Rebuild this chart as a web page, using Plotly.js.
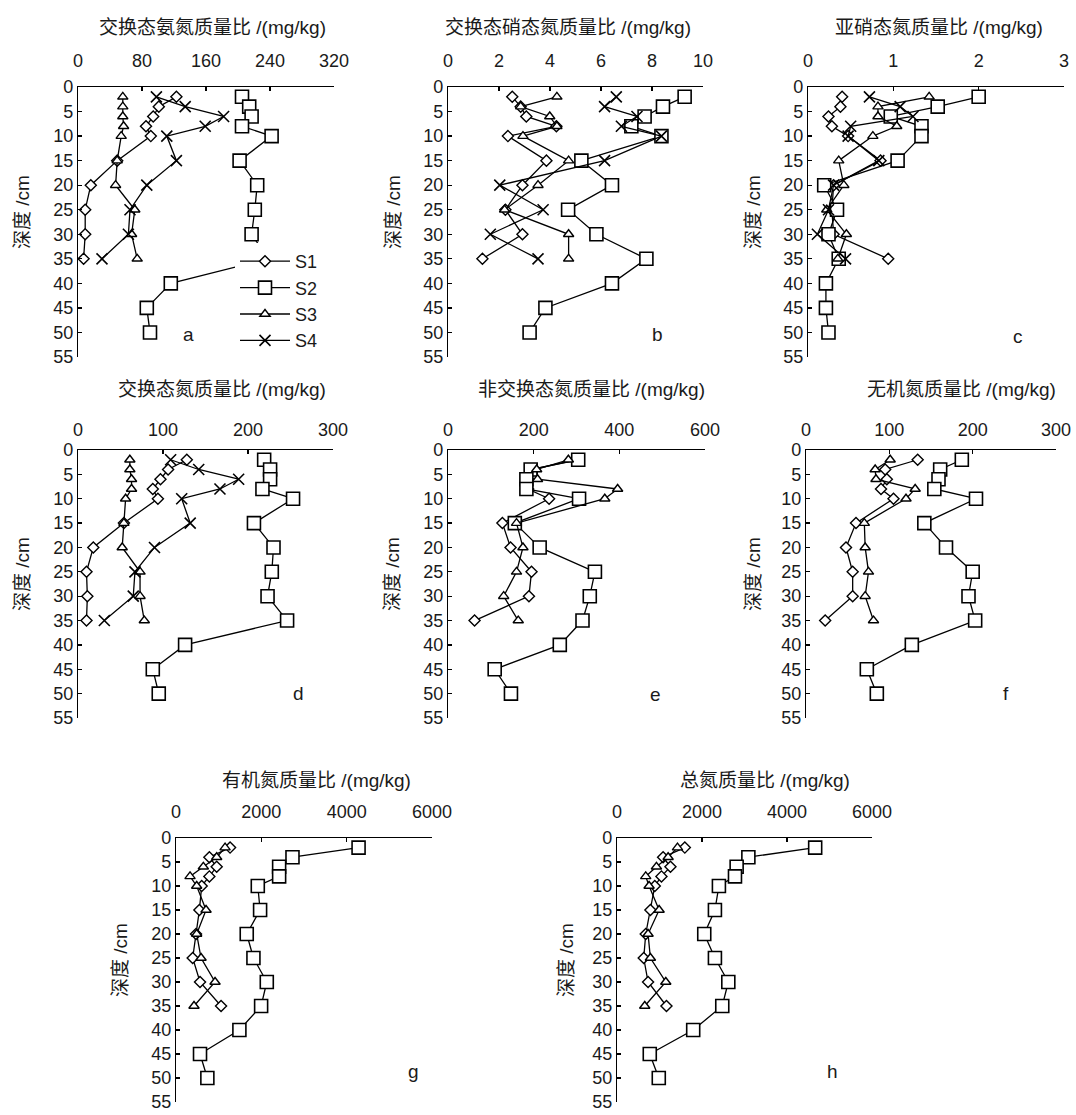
<!DOCTYPE html>
<html><head><meta charset="utf-8">
<script src="https://cdn.plot.ly/plotly-3.0.1.min.js"></script>
<style>html,body{margin:0;padding:0;background:#fff}#chart{width:1076px;height:1115px}</style>
</head><body><div id="chart"></div>
<script>
// ---------- data ----------
const depthS = [2,4,6,8,10,15,20,25,30,35];            // S1, S3, S4
const depthS2 = [2,4,6,8,10,15,20,25,30,35,40,45,50];   // S2
const seriesNames = ['S1','S2','S3','S4'];

// a 交换态氨氮
const nh4_S1 = [123,101,94,85,91,49,16,9,9,7];
const nh4_S2 = [205,214,217,205,242,202,224,221,217,238,116,86,90];
const nh4_S3 = [56,56,56,57,54,49,47,71,67,74];
const nh4_S4 = [98,134,182,159,111,123,86,65,63,30];
// b 交换态硝态氮
const no3_S1 = [2.52,2.85,3.07,4.25,2.35,3.86,2.92,2.25,2.92,1.35];
const no3_S2 = [9.28,8.43,7.71,7.19,8.37,5.23,6.43,4.71,5.82,7.78,6.43,3.82,3.2];
const no3_S3 = [4.27,2.85,3.99,4.27,2.94,4.73,3.53,2.22,4.73,4.73];
const no3_S4 = [6.6,6.14,7.41,6.8,8.37,6.14,2.03,3.73,1.66,3.53];
// c 亚硝态氮
const no2_S1 = [0.40,0.38,0.24,0.28,0.47,0.85,0.30,0.28,0.30,0.94];
const no2_S2 = [2.0,1.52,0.97,1.33,1.33,1.05,0.19,0.34,0.24,0.36,0.21,0.21,0.24];
const no2_S3 = [1.42,0.82,0.82,1.04,0.76,0.36,0.42,0.22,0.45,0.35];
const no2_S4 = [0.72,1.08,1.23,0.50,0.47,0.83,0.30,0.24,0.11,0.44];
// d 交换态氮
const exN_S1 = [128,106,97,88,94,54,18,10,11,10];
const exN_S2 = [219,226,226,217,253,207,230,228,223,246,126,88,95];
const exN_S3 = [61,61,63,63,56,54,52,73,73,78];
const exN_S4 = [109,142,189,167,122,132,90,67,65,31];
// e 非交换态氮
const nonexN_S1 = [300,195,187,187,236,127,146,195,189,62];
const nonexN_S2 = [304,193,183,183,306,156,214,343,331,314,261,109,147];
const nonexN_S3 = [281,207,209,396,366,160,175,160,130,164];
// f 无机氮
const inorgN_S1 = [134,95,97,90,105,60,48,56,56,23];
const inorgN_S2 = [187,161,159,154,204,142,168,200,195,203,127,73,85];
const inorgN_S3 = [101,83,84,131,120,70,71,75,71,81];
// g 有机氮
const orgN_S1 = [1267,782,954,782,602,548,469,391,563,1056];
const orgN_S2 = [4279,2730,2417,2417,1917,1971,1658,1815,2128,1995,1486,563,735];
const orgN_S3 = [1150,954,641,329,485,704,485,587,915,422];
// h 总氮
const totN_S1 = [1596,1085,1258,1046,889,786,676,629,731,1164];
const totN_S2 = [4663,3091,2815,2776,2398,2304,2053,2304,2619,2477,1793,771,983];
const totN_S3 = [1423,1203,928,676,755,991,731,786,1148,653];

const xTitles = ['交换态氨氮质量比 /(mg/kg)','交换态硝态氮质量比 /(mg/kg)','亚硝态氮质量比 /(mg/kg)',
  '交换态氮质量比 /(mg/kg)','非交换态氮质量比 /(mg/kg)','无机氮质量比 /(mg/kg)',
  '有机氮质量比 /(mg/kg)','总氮质量比 /(mg/kg)'];
const yTitle = '深度 /cm';
const panelLetters = ['a','b','c','d','e','f','g','h'];
const xRanges = [[0,320],[0,10],[0,3],[0,300],[0,600],[0,300],[0,6000],[0,6000]];
const xDticks = [80,2,1,100,200,100,2000,2000];
const yTickVals = [0,5,10,15,20,25,30,35,40,45,50,55];

const panelSeries = [
  [nh4_S1,nh4_S2,nh4_S3,nh4_S4],
  [no3_S1,no3_S2,no3_S3,no3_S4],
  [no2_S1,no2_S2,no2_S3,no2_S4],
  [exN_S1,exN_S2,exN_S3,exN_S4],
  [nonexN_S1,nonexN_S2,nonexN_S3],
  [inorgN_S1,inorgN_S2,inorgN_S3],
  [orgN_S1,orgN_S2,orgN_S3],
  [totN_S1,totN_S2,totN_S3]
];

// ---------- layout geometry (pixels) ----------
const W = 1076, H = 1115;
const boxes = [
  [78,334,87,357],[448,703,87,357],[808,1064,87,357],
  [78,333,450,718],[448,705,450,718],[806,1056,450,718],
  [176,432,838,1102],[617,872,838,1102]
];
const standoffRow = [12,12,12,6,6,6,12,12];
const xTitlePos = [[212,27],[568,27],[939,27],[222,389],[591,389],[961,389],[316,780],[765,780]];
const yTitlePos = [[22,212],[393,212],[753,212],[22,574],[392,574],[753,574],[120,960],[566,960]];
const letterPos = [[188,334],[657,334],[1018,337],[298,693],[655,694],[1006,693],[413,1071],[832,1071]];

const FONT = '"Liberation Sans", Arial, "Noto Sans CJK SC", sans-serif';
const TXT = '#1a1a1a';
const markerStyles = [
  {symbol:'diamond', size:8.5, color:'white', line:{color:'black',width:1.4}},
  {symbol:'square', size:13, color:'white', line:{color:'black',width:1.6}},
  {symbol:'triangle-up', size:9, color:'white', line:{color:'black',width:1.4}},
  {symbol:'x-thin', size:11, color:'black', line:{color:'black',width:1.6}}
];

const traces = [];
const layout = {
  width: W, height: H,
  margin: {l:0,r:0,t:0,b:0},
  paper_bgcolor: 'white', plot_bgcolor: 'white',
  font: {family: FONT, size: 18, color: TXT},
  showlegend: true,
  legend: {x: 235/W, y: 1-243/H, xanchor:'left', yanchor:'top', bgcolor:'white',
           borderwidth:0, font:{size:18, family:FONT, color:TXT}, itemwidth:50,
           tracegroupgap:0},
  annotations: []
};

panelSeries.forEach((ser, p) => {
  const ax = p === 0 ? '' : String(p+1);
  ser.forEach((vals, s) => {
    traces.push({
      type:'scatter', mode:'lines+markers',
      x: vals, y: s === 1 ? depthS2 : depthS,
      xaxis: 'x'+ax, yaxis: 'y'+ax,
      name: seriesNames[s], showlegend: p === 0,
      line: {color:'black', width:1.3},
      marker: markerStyles[s],
      cliponaxis: false, hoverinfo:'skip'
    });
  });
  const b = boxes[p];
  layout['xaxis'+ax] = {
    domain: [b[0]/W, b[1]/W], anchor: 'y'+ax, side: 'top',
    range: xRanges[p], dtick: xDticks[p], tick0: 0,
    showline: true, linecolor:'black', linewidth:1.2,
    ticks:'inside', ticklen:4, tickcolor:'black', tickwidth:1.2,
    showgrid:false, zeroline:false, mirror:false,
    tickfont:{size:18, family:FONT, color:TXT},
    ticklabelstandoff: standoffRow[p], ticklabeloverflow:'allow', fixedrange:true
  };
  layout['yaxis'+ax] = {
    domain: [1-b[3]/H, 1-b[2]/H], anchor: 'x'+ax,
    range: [55,0], tickvals: yTickVals,
    showline: true, linecolor:'black', linewidth:1.2,
    ticks:'inside', ticklen:4, tickcolor:'black', tickwidth:1.2,
    showgrid:false, zeroline:false, ticklabeloverflow:'allow',
    tickfont:{size:18, family:FONT, color:TXT}, fixedrange:true
  };
  layout.annotations.push({xref:'paper', yref:'paper', x:xTitlePos[p][0]/W, y:1-xTitlePos[p][1]/H,
    xanchor:'center', yanchor:'middle', showarrow:false, text:xTitles[p],
    font:{size:19, family:FONT, color:TXT}});
  layout.annotations.push({xref:'paper', yref:'paper', x:yTitlePos[p][0]/W, y:1-yTitlePos[p][1]/H,
    xanchor:'center', yanchor:'middle', showarrow:false, text:yTitle, textangle:-90,
    font:{size:19, family:FONT, color:TXT}});
  layout.annotations.push({xref:'paper', yref:'paper', x:letterPos[p][0]/W, y:1-letterPos[p][1]/H,
    xanchor:'center', yanchor:'middle', showarrow:false, text:panelLetters[p],
    font:{size:19, family:FONT, color:TXT}});
});

Plotly.newPlot('chart', traces, layout, {staticPlot:true, displayModeBar:false});
</script></body></html>
